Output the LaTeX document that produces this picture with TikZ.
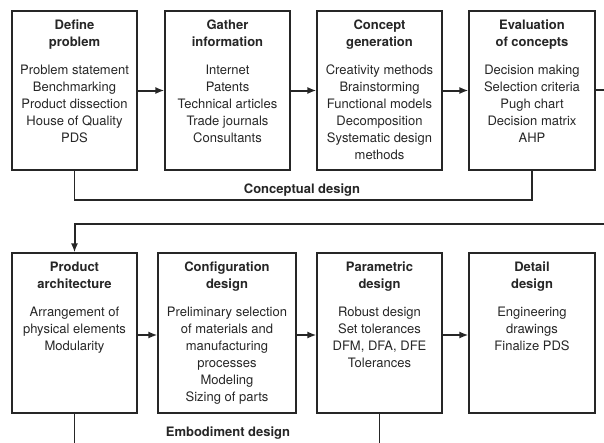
\documentclass[tikz,border=0pt]{standalone}
\usepackage{fontspec}
\setmainfont{TeX Gyre Heros}
\usetikzlibrary{arrows.meta}

\tikzset{
  stage/.style={draw=black!85, line width=1.1pt, minimum width=125pt,
    minimum height=159pt, inner sep=0pt},
  stagetext/.style={anchor=north, align=center, inner sep=0pt, text=black!85,
    font=\fontsize{13}{17}\selectfont},
  flow/.style={draw=black!85, line width=2pt, -{Latex[length=9pt,width=7pt]}},
  phase/.style={draw=black!85, line width=1.4pt},
  phasetext/.style={text=black!85, font=\fontsize{13}{17}\selectfont\bfseries}
}

\begin{document}
\begin{tikzpicture}[x=1pt,y=-1pt]
    \useasboundingbox (0,0) rectangle (604,442);
    \clip (0,0) rectangle (604,442);

    % conceptual design
    \node[stage] (def) at (74.5,90.5) {};
    \node[stage] (gath) at (227.5,90.5) {};
    \node[stage] (conc) at (379.5,90.5) {};
    \node[stage, minimum width=126pt] (eval) at (532,90.5) {};

    \node[stagetext] (deft) at ([yshift=-9.5pt]def.north)
      {\textbf{Define}\\\textbf{problem}\\[11pt]Problem statement\\Benchmarking\\Product dissection\\House of Quality\\PDS};
    \node[stagetext] (gatht) at ([yshift=-9.5pt]gath.north)
      {\textbf{Gather}\\\textbf{information}\\[11pt]Internet\\Patents\\Technical articles\\Trade journals\\Consultants};
    \node[stagetext] (conct) at ([yshift=-9.5pt]conc.north)
      {\textbf{Concept}\\\textbf{generation}\\[11pt]Creativity methods\\Brainstorming\\Functional models\\Decomposition\\Systematic design\\methods};
    \node[stagetext] (evalt) at ([yshift=-9.5pt]eval.north)
      {\textbf{Evaluation}\\\textbf{of concepts}\\[11pt]Decision making\\Selection criteria\\Pugh chart\\Decision matrix\\AHP};

    % embodiment design
    \node[stage, minimum height=160pt] (arch) at (74.5,333) {};
    \node[stage, minimum height=160pt, minimum width=138pt] (conf) at (227,333) {};
    \node[stage, minimum height=160pt] (para) at (379.5,333) {};
    \node[stage, minimum height=160pt, minimum width=126pt] (det) at (532,333) {};

    \node[stagetext] (archt) at ([yshift=-9.5pt]arch.north)
      {\textbf{Product}\\\textbf{architecture}\\[11pt]Arrangement of\\physical elements\\Modularity};
    \node[stagetext] (conft) at ([yshift=-9.5pt]conf.north)
      {\textbf{Configuration}\\\textbf{design}\\[11pt]Preliminary selection\\of materials and\\manufacturing\\processes\\Modeling\\Sizing of parts};
    \node[stagetext] (parat) at ([yshift=-9.5pt]para.north)
      {\textbf{Parametric}\\\textbf{design}\\[11pt]Robust design\\Set tolerances\\DFM, DFA, DFE\\Tolerances};
    \node[stagetext] (dett) at ([yshift=-9.5pt]det.north)
      {\textbf{Detail}\\\textbf{design}\\[11pt]Engineering\\drawings\\Finalize PDS};

    % flow between stages
    \draw[flow] (def) -- (gath);
    \draw[flow] (gath) -- (conc);
    \draw[flow] (conc) -- (eval);
    \draw[flow] (arch.east |- 0,335) -- (conf.west |- 0,335);
    \draw[flow] (conf.east |- 0,335) -- (para.west |- 0,335);
    \draw[flow] (para.east |- 0,335) -- (det.west |- 0,335);
    \coordinate (turn) at (620,224);
    \draw[flow] (eval.east |- 0,90) -- (turn |- 0,90) -- (turn) -| (arch.north);

    % phase brackets
    \draw[phase] (def.south) |- (eval.south |- 0,200) -- (eval.south);
    \node[phasetext] (concl) at (302,190) {Conceptual design};
    \draw[phase] (arch.south) |- (para.south |- 0,450) -- (para.south);
    \node[phasetext] (embl) at (228,433) {Embodiment design};
\end{tikzpicture}
\end{document}
